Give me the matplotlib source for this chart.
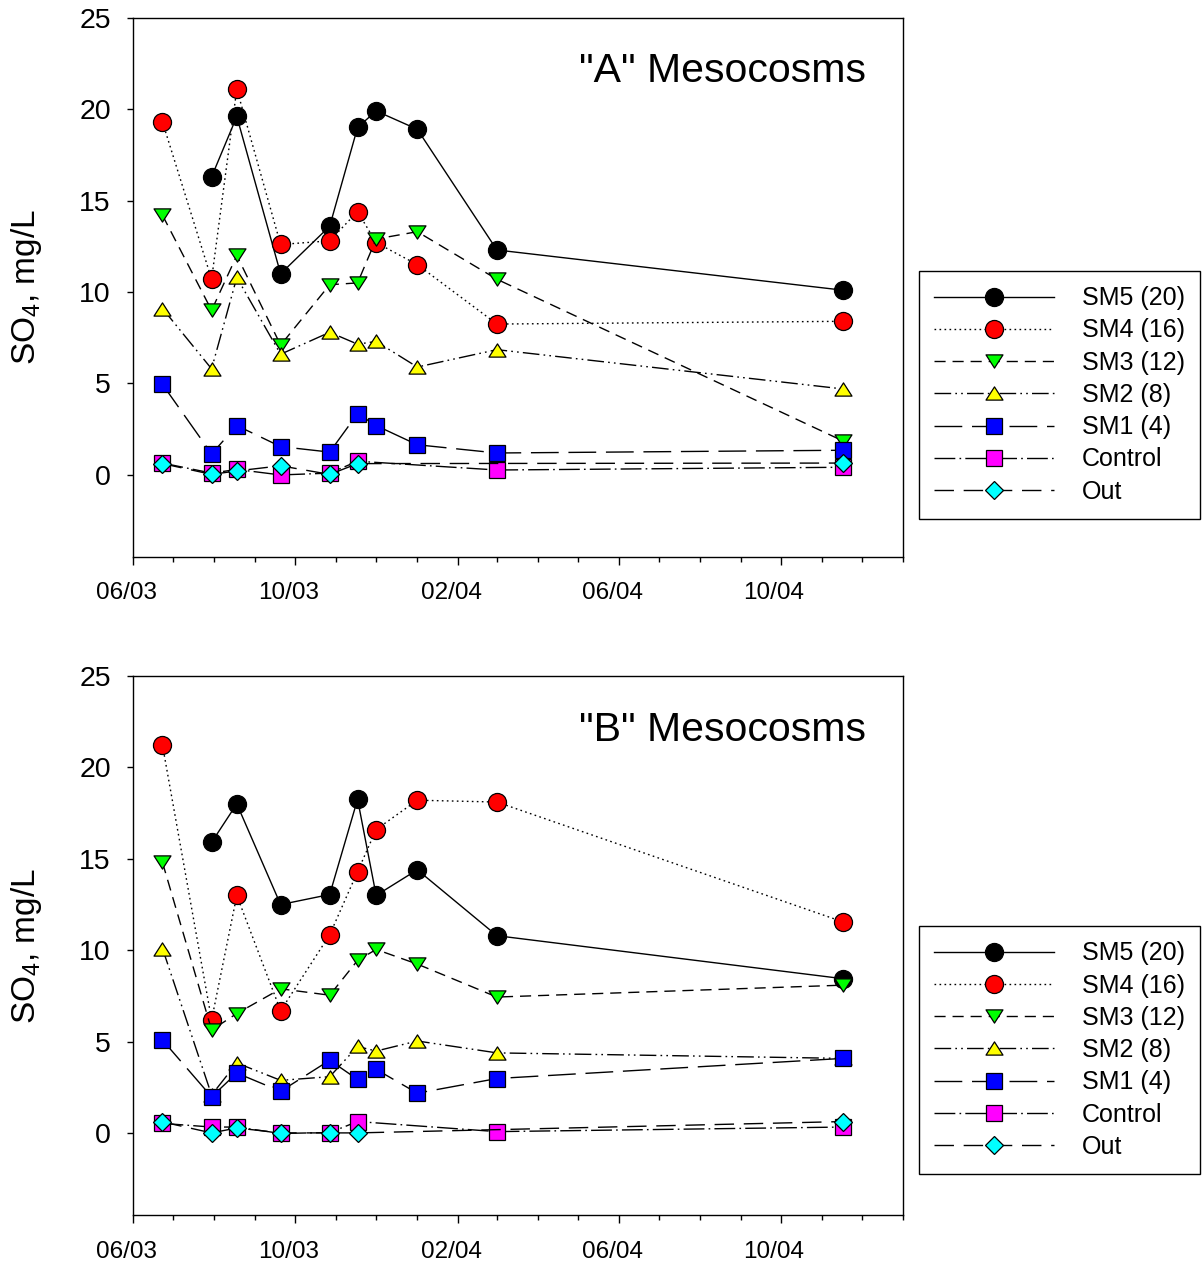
import numpy as np
import matplotlib
matplotlib.use('Agg')
import matplotlib.pyplot as plt
import matplotlib.dates as mdates
from matplotlib.path import Path
from matplotlib.transforms import ScaledTranslation
from datetime import datetime

plt.rcParams['font.family'] = ['Liberation Sans', 'DejaVu Sans']
plt.rcParams['mathtext.fontset'] = 'custom'
plt.rcParams['mathtext.rm'] = 'Liberation Sans'
plt.rcParams['mathtext.default'] = 'rm'

nan = np.nan
dates = ['2003-06-23', '2003-07-30', '2003-08-18', '2003-09-20', '2003-10-27',
         '2003-11-17', '2003-12-01', '2004-01-01', '2004-03-01', '2004-11-17']
names = ['SM5 (20)', 'SM4 (16)', 'SM3 (12)', 'SM2 (8)', 'SM1 (4)', 'Control', 'Out']

# "A" mesocosms, SO4 mg/L
a_sm5 = [nan, 16.3, 19.6, 11.0, 13.6, 19.0, 19.9, 18.9, 12.3, 10.1]
a_sm4 = [19.3, 10.7, 21.1, 12.6, 12.8, 14.4, 12.7, 11.5, 8.25, 8.4]
a_sm3 = [14.2, 9.0, 12.0, 7.1, 10.4, 10.5, 12.9, 13.3, 10.7, 1.85]
a_sm2 = [9.1, 5.8, 10.8, 6.6, 7.8, 7.15, 7.3, 5.9, 6.85, 4.7]
a_sm1 = [4.95, 1.15, 2.7, 1.55, 1.25, 3.35, 2.7, 1.65, 1.2, 1.35]
a_ctrl = [0.65, 0.1, 0.3, 0.0, 0.1, 0.75, nan, nan, 0.27, 0.42]
a_out = [0.62, 0.03, 0.22, 0.5, 0.03, 0.62, nan, nan, nan, 0.65]

# "B" mesocosms
b_sm5 = [nan, 15.9, 18.0, 12.5, 13.05, 18.25, 13.0, 14.4, 10.8, 8.45]
b_sm4 = [21.2, 6.2, 13.0, 6.7, 10.85, 14.3, 16.6, 18.2, 18.1, 11.55]
b_sm3 = [14.8, 5.65, 6.55, 7.9, 7.55, 9.45, 10.05, 9.25, 7.45, 8.1]
b_sm2 = [10.1, 2.1, 3.85, 2.9, 3.1, 4.75, 4.5, 5.05, 4.4, 4.1]
b_sm1 = [5.1, 2.0, 3.3, 2.3, 4.0, 2.95, 3.5, 2.2, 3.0, 4.1]
b_ctrl = [0.55, 0.35, 0.35, 0.0, 0.05, 0.65, nan, nan, 0.1, 0.35]
b_out = [0.63, 0.03, 0.3, 0.03, 0.03, 0.03, nan, nan, nan, 0.65]

x = np.array([datetime.strptime(d, '%Y-%m-%d') for d in dates])

tri_dn = Path([(-1, 0.78), (1, 0.78), (0, -0.78), (-1, 0.78)],
              [Path.MOVETO, Path.LINETO, Path.LINETO, Path.CLOSEPOLY])
tri_up = Path([(-1, -0.78), (1, -0.78), (0, 0.78), (-1, -0.78)],
              [Path.MOVETO, Path.LINETO, Path.LINETO, Path.CLOSEPOLY])

colors = ['black', 'red', '#00ff00', 'yellow', 'blue', 'magenta', 'cyan']
markers = ['o', 'o', tri_dn, tri_up, 's', 's', 'D']
msizes = [13, 13, 12.2, 12.2, 11.3, 11.3, 9.2]
dashes = [None, (1.2, 2.4), (8, 5), (12, 3, 1.2, 3, 1.2, 3), (20, 7), (15, 3, 1.2, 3), (14, 7)]

fig = plt.figure(figsize=(12.04, 12.68), dpi=100)
ax1 = fig.add_axes([133.3/1204, 1-556.7/1268, 769.7/1204, 539.0/1268])
ax2 = fig.add_axes([133.3/1204, 1-1215.3/1268, 769.7/1204, 539.6/1268])

panels = [(ax1, [a_sm5, a_sm4, a_sm3, a_sm2, a_sm1, a_ctrl, a_out], '"A" Mesocosms', 0.880, 0.300),
          (ax2, [b_sm5, b_sm4, b_sm3, b_sm2, b_sm1, b_ctrl, b_out], '"B" Mesocosms', 0.879, 0.306)]

shift = ScaledTranslation(-7/100, 0, fig.dpi_scale_trans)

for ax, series, title, ty, ly in panels:
    for i, ys in enumerate(series):
        ys = np.array(ys)
        ok = ~np.isnan(ys)
        line, = ax.plot(x[ok], ys[ok], color='black', lw=1.0, marker=markers[i],
                        ms=msizes[i], mfc=colors[i], mec='black', mew=0.9, label=names[i])
        if dashes[i] is not None:
            line.set_dashes(dashes[i])
    ax.set_xlim(datetime(2003, 6, 1), datetime(2005, 1, 1))
    ax.set_ylim(-4.47, 25)
    ax.set_yticks([0, 5, 10, 15, 20, 25])
    ax.xaxis.set_major_locator(mdates.MonthLocator(bymonth=[2, 6, 10]))
    ax.xaxis.set_minor_locator(mdates.MonthLocator())
    ax.xaxis.set_major_formatter(mdates.DateFormatter('%m/%y'))
    ax.tick_params(axis='x', which='major', length=5.8, width=1, pad=12.5, labelsize=17.5)
    ax.tick_params(axis='x', which='minor', length=3.6, width=1)
    ax.tick_params(axis='y', length=4.2, width=1, pad=12, labelsize=20.5)
    for lab in ax.get_xticklabels():
        lab.set_transform(lab.get_transform() + shift)
    for s in ax.spines.values():
        s.set_linewidth(1.0)
    ax.set_ylabel('SO$_4$, mg/L', fontsize=24)
    ax.yaxis.set_label_coords(-0.116, 0.5)
    ax.text(0.952, ty, title, transform=ax.transAxes, ha='right', va='baseline', fontsize=29.5)
    leg = ax.legend(loc='center left', bbox_to_anchor=(1.0208, ly), borderaxespad=0,
                    fontsize=18, handlelength=4.8, handletextpad=1.1, labelspacing=0.33,
                    borderpad=0.6, numpoints=1, fancybox=False, edgecolor='black', framealpha=1)
    leg.get_frame().set_linewidth(1.0)

plt.savefig('out.png', dpi=100)
